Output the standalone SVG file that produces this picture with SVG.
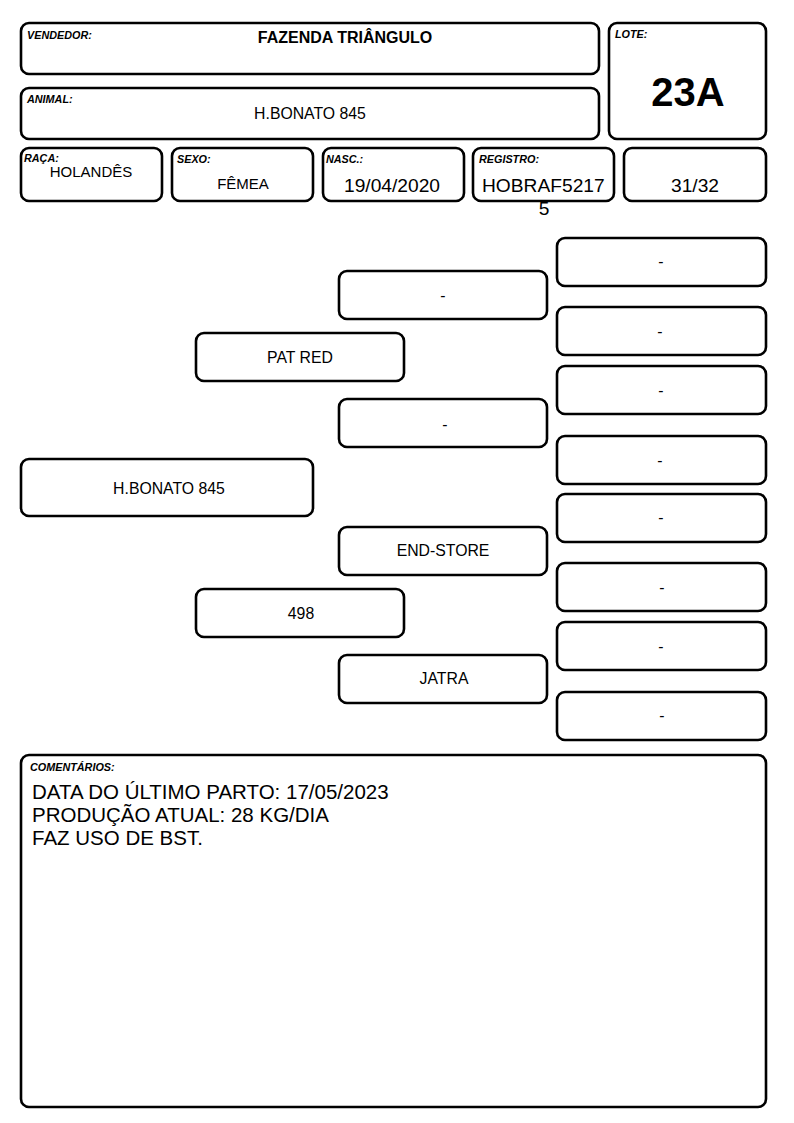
<svg xmlns="http://www.w3.org/2000/svg" width="794" height="1123" viewBox="0 0 794 1123">
<style>
.b{fill:#fff;stroke:#000;stroke-width:2.6}
.l{font-family:"Liberation Sans",Arial,sans-serif;font-size:10.8px;font-weight:bold;font-style:italic;fill:#000}
.t{font-family:"Liberation Sans",Arial,sans-serif;font-size:15px;fill:#000}
.p{font-family:"Liberation Sans",Arial,sans-serif;font-size:15.8px;fill:#000}
.m{font-family:"Liberation Sans",Arial,sans-serif;font-size:19.2px;fill:#000}
.c{text-anchor:middle}
</style>
<rect width="794" height="1123" fill="#fff"/>
<g id="vendedor"><rect class="b" x="21" y="23" width="578" height="51" rx="8"/><text class="l" x="27" y="39">VENDEDOR:</text><text class="c" x="345" y="43" font-family="Liberation Sans, Arial, sans-serif" font-size="16" font-weight="bold">FAZENDA TRIÂNGULO</text></g>
<g id="animal"><rect class="b" x="21" y="88" width="578" height="51" rx="8"/><text class="l" x="27" y="103">ANIMAL:</text><text class="p c" x="310" y="119">H.BONATO 845</text></g>
<g id="lote"><rect class="b" x="609" y="23" width="157" height="116" rx="8"/><text class="l" x="615" y="38">LOTE:</text><text class="c" x="688" y="106" font-family="Liberation Sans, Arial, sans-serif" font-size="40" font-weight="bold">23A</text></g>
<g id="raca"><rect class="b" x="21" y="148" width="141" height="53" rx="8"/><text class="l" x="24" y="162">RAÇA:</text><text class="t c" x="91" y="177">HOLANDÊS</text></g>
<g id="sexo"><rect class="b" x="172" y="148" width="141" height="53" rx="8"/><text class="l" x="177" y="163">SEXO:</text><text class="t c" x="243" y="189">FÊMEA</text></g>
<g id="nasc"><rect class="b" x="323" y="148" width="141" height="53" rx="8"/><text class="l" x="326" y="163">NASC.:</text><text class="m c" x="392" y="192">19/04/2020</text></g>
<g id="registro"><rect class="b" x="473" y="148" width="141" height="53" rx="8"/><text class="l" x="479" y="163">REGISTRO:</text><text class="m" x="482" y="192">HOBRAF5217</text><text class="m c" x="544" y="215">5</text></g>
<g id="fracao"><rect class="b" x="624" y="148" width="142" height="53" rx="8"/><text class="m c" x="695" y="192">31/32</text></g>

<g id="p-animal"><rect class="b" x="21" y="459" width="292" height="57" rx="8"/><text class="p c" x="169" y="494">H.BONATO 845</text></g>
<g id="p-pai"><rect class="b" x="196" y="333" width="208" height="48" rx="8"/><text class="p c" x="300" y="363">PAT RED</text></g>
<g id="p-mae"><rect class="b" x="196" y="589" width="208" height="48" rx="8"/><text class="p c" x="301" y="619">498</text></g>
<g id="p-avo1"><rect class="b" x="339" y="271" width="208" height="48" rx="8"/><text class="p c" x="443" y="301">-</text></g>
<g id="p-avo2"><rect class="b" x="339" y="399" width="208" height="48" rx="8"/><text class="p c" x="445" y="430">-</text></g>
<g id="p-avo3"><rect class="b" x="339" y="527" width="208" height="48" rx="8"/><text class="p c" x="443" y="556">END-STORE</text></g>
<g id="p-avo4"><rect class="b" x="339" y="655" width="208" height="48" rx="8"/><text class="p c" x="444" y="684">JATRA</text></g>
<g id="p-bis1"><rect class="b" x="557" y="238" width="209" height="48" rx="8"/><text class="p c" x="661" y="267">-</text></g>
<g id="p-bis2"><rect class="b" x="557" y="307" width="209" height="48" rx="8"/><text class="p c" x="660" y="337">-</text></g>
<g id="p-bis3"><rect class="b" x="557" y="366" width="209" height="48" rx="8"/><text class="p c" x="661" y="396">-</text></g>
<g id="p-bis4"><rect class="b" x="557" y="436" width="209" height="48" rx="8"/><text class="p c" x="660" y="466">-</text></g>
<g id="p-bis5"><rect class="b" x="557" y="494" width="209" height="48" rx="8"/><text class="p c" x="661" y="523">-</text></g>
<g id="p-bis6"><rect class="b" x="557" y="563" width="209" height="48" rx="8"/><text class="p c" x="662" y="593">-</text></g>
<g id="p-bis7"><rect class="b" x="557" y="622" width="209" height="48" rx="8"/><text class="p c" x="661" y="652">-</text></g>
<g id="p-bis8"><rect class="b" x="557" y="692" width="209" height="48" rx="8"/><text class="p c" x="662" y="721">-</text></g>
<g id="connectors"></g>

<g id="comentarios"><rect class="b" x="21" y="755" width="745" height="352" rx="8"/><text class="l" x="30" y="771">COMENTÁRIOS:</text>
<text font-family="Liberation Sans, Arial, sans-serif" font-size="20.5" fill="#000"><tspan x="32" y="799">DATA DO ÚLTIMO PARTO: 17/05/2023</tspan><tspan x="32" y="822">PRODUÇÃO ATUAL: 28 KG/DIA</tspan><tspan x="32" y="845">FAZ USO DE BST.</tspan></text></g>
</svg>
